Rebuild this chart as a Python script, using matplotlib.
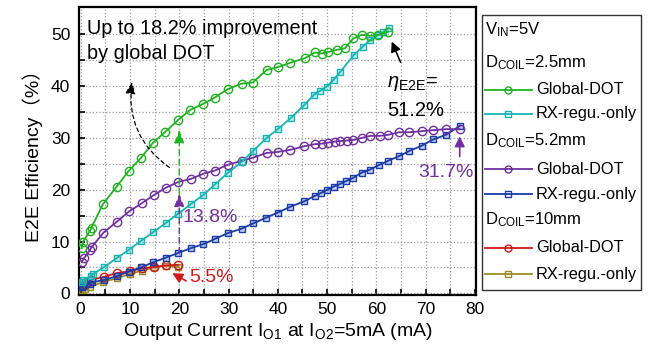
import matplotlib
matplotlib.use("Agg")
import matplotlib.pyplot as plt
from matplotlib.lines import Line2D
from matplotlib.patches import Rectangle
from matplotlib.colors import to_rgba

FONT = ["Liberation Sans", "DejaVu Sans"]
plt.rcParams["font.family"] = FONT
plt.rcParams["mathtext.fontset"] = "custom"
plt.rcParams["mathtext.rm"] = "Liberation Sans"
plt.rcParams["mathtext.it"] = "Liberation Sans:italic"
plt.rcParams["mathtext.bf"] = "Liberation Sans:bold"

# ---- measured efficiency curves (output current in mA, efficiency in %) ----
x_dot_25 = [0.2, 0.5, 1.9, 2.2, 4.5, 7.3, 9.8, 12.2, 14.7, 17.2, 19.8, 22.2, 24.9, 27.2,
            29.8, 32.7, 34.9, 37.7, 40.1, 42.5, 45.5, 47.5, 48.9, 50.2, 51.9, 53.6, 55.3,
            57.0, 58.7, 60.4, 62.4]
y_dot_25 = [8.7, 10.0, 12.1, 12.7, 17.2, 20.6, 23.7, 26.1, 29.1, 31.2, 33.5, 35.4, 36.6, 37.8,
            39.4, 40.5, 40.7, 43.1, 43.7, 44.5, 45.4, 46.5, 46.3, 46.6, 47.0, 47.3, 49.2,
            49.9, 49.7, 49.9, 50.5]

x_rx_25 = [0.2, 0.5, 2.0, 2.5, 4.8, 7.3, 9.8, 12.2, 14.7, 17.3, 19.8, 22.3, 24.9, 27.2,
           29.8, 32.7, 35.0, 37.6, 40.0, 42.7, 45.4, 47.3, 48.6, 49.9, 51.3, 52.7, 55.4,
           57.2, 58.7, 60.4, 61.3, 62.5]
y_rx_25 = [2.2, 2.6, 3.3, 3.7, 5.1, 6.8, 8.4, 10.1, 11.8, 13.6, 15.4, 17.2, 19.0, 21.0,
           23.2, 25.4, 27.5, 29.9, 31.7, 33.9, 36.4, 38.3, 39.1, 39.9, 41.2, 42.8, 46.0,
           47.6, 48.9, 49.9, 50.4, 51.2]

x_dot_52 = [0.2, 0.7, 1.9, 2.2, 4.6, 7.3, 9.8, 12.4, 14.9, 17.3, 19.8, 22.4, 24.9, 27.2,
            29.8, 32.7, 35.0, 37.7, 40.0, 42.5, 45.4, 47.5, 48.9, 50.2, 51.6, 52.7, 54.0,
            55.3, 57.0, 58.7, 60.7, 62.4, 64.6, 66.7, 69.2, 71.5, 74.1, 76.9]
y_dot_52 = [6.1, 6.8, 8.4, 8.9, 11.7, 13.8, 15.8, 17.4, 19.0, 20.4, 21.5, 22.1, 23.1, 23.7,
            24.8, 25.6, 26.2, 27.1, 27.3, 27.7, 28.4, 28.8, 28.9, 29.1, 29.3, 29.4, 29.5,
            29.6, 30.0, 30.4, 30.4, 30.6, 31.1, 31.1, 31.3, 31.5, 31.7, 31.7]

x_rx_52 = [0.2, 0.5, 1.9, 2.2, 4.8, 7.3, 9.8, 12.2, 14.7, 17.3, 19.8, 22.3, 24.9, 27.2,
           29.8, 32.7, 35.0, 37.6, 40.0, 42.5, 45.4, 47.5, 48.8, 50.0, 51.3, 52.6, 53.9,
           55.3, 57.0, 58.7, 60.6, 62.4, 64.6, 66.7, 69.2, 71.5, 74.1, 76.9]
y_rx_52 = [1.3, 1.5, 1.9, 2.1, 2.6, 3.3, 4.2, 5.0, 6.0, 6.9, 7.8, 8.7, 9.5, 10.5,
           11.6, 12.5, 13.5, 14.6, 15.6, 16.7, 17.8, 18.8, 19.4, 20.0, 20.6, 21.1, 21.7,
           22.3, 23.3, 23.9, 24.8, 25.6, 26.5, 27.5, 28.5, 29.7, 30.6, 32.3]

x_dot_10 = [0.2, 0.9, 2.1, 4.8, 7.3, 10.0, 12.4, 14.9, 17.3, 19.8]
y_dot_10 = [1.4, 1.8, 2.6, 3.2, 3.9, 4.3, 4.8, 5.1, 5.4, 5.5]

x_rx_10 = [0.2, 0.9, 1.9, 4.6, 7.3, 10.0, 12.4, 14.9, 17.3, 19.8]
y_rx_10 = [0.6, 0.9, 1.3, 2.2, 2.9, 3.7, 4.4, 5.0, 5.3, 5.1]

x_ticks = [0, 10, 20, 30, 40, 50, 60, 70, 80]
y_ticks = [0, 10, 20, 30, 40, 50]

GREEN = "#1fb41f"
CYAN = "#18b4b4"
PURPLE = "#7030a0"
BLUE = "#1a3caa"
RED = "#d01818"
OLIVE = "#9a8c22"

W, H = 651, 353
fig = plt.figure(figsize=(W / 100, H / 100), dpi=100)
ax = fig.add_axes([78.7 / W, (H - 294.9) / H, (476.5 - 78.7) / W, (294.9 - 7.4) / H])


def curve(x, y, color, marker):
    if marker == "o":
        ax.plot(x, y, color=color, lw=1.3, marker="o", ms=6.0, mfc="none",
                mec=color, mew=1.0, zorder=3)
    else:
        ax.plot(x, y, color=color, lw=1.3, marker="s", ms=4.8,
                mfc=to_rgba(color, 0.25), mec=color, mew=1.0, zorder=3)


curve(x_rx_10, y_rx_10, OLIVE, "s")
curve(x_dot_10, y_dot_10, RED, "o")
curve(x_rx_52, y_rx_52, BLUE, "s")
curve(x_dot_52, y_dot_52, PURPLE, "o")
curve(x_rx_25, y_rx_25, CYAN, "s")
curve(x_dot_25, y_dot_25, GREEN, "o")

ax.set_xlim(-0.4, 80.3)
ax.set_ylim(-0.3, 55.2)
ax.set_xticks(x_ticks)
ax.set_yticks(y_ticks)
ax.set_xticks(range(5, 80, 10), minor=True)
ax.set_yticks(range(5, 55, 10), minor=True)
ax.grid(which="both", ls=":", color="#9c9c9c", lw=0.9, zorder=0)
ax.set_axisbelow(True)
ax.tick_params(which="both", direction="in", length=4, width=1.2, labelsize=12.5)
ax.tick_params(axis="x", pad=5)
ax.tick_params(axis="y", pad=6)
for s in ax.spines.values():
    s.set_linewidth(1.6)

ax.set_xlabel(r"Output Current I$_{\mathrm{O1}}$ at I$_{\mathrm{O2}}$=5mA (mA)",
              fontsize=14, labelpad=3)
ax.set_ylabel("E2E Efficiency（%）", fontsize=14, labelpad=6,
              family=["Liberation Sans", "Noto Sans CJK SC"])

# annotations
ax.text(1.3, 52.9, "Up to 18.2% improvement\nby global DOT", fontsize=14.3,
        va="top", ha="left", linespacing=1.35, zorder=4)

ax.annotate("", xy=(10.4, 40.8), xytext=(18.0, 24.3),
            arrowprops=dict(arrowstyle="-|>,head_length=0.7,head_width=0.3",
                            ls=(0, (3, 2.5)), color="black", lw=0.9,
                            connectionstyle="arc3,rad=-0.3", shrinkA=0, shrinkB=0))

ax.annotate("", xy=(20.0, 31.6), xytext=(20.0, 15.4),
            arrowprops=dict(arrowstyle="-|>,head_length=0.8,head_width=0.3",
                            ls=(0, (4, 3)), color=GREEN, lw=1.0, shrinkA=0, shrinkB=0))
ax.annotate("", xy=(20.0, 19.3), xytext=(20.0, 7.8),
            arrowprops=dict(arrowstyle="-|>,head_length=0.8,head_width=0.3",
                            ls=(0, (4, 3)), color=PURPLE, lw=1.0, shrinkA=0, shrinkB=0))
ax.text(20.7, 14.6, "13.8%", fontsize=14, color=PURPLE, va="center", ha="left", zorder=4)

ax.annotate("", xy=(18.6, 3.9), xytext=(21.4, 2.4),
            arrowprops=dict(arrowstyle="-|>,head_length=0.6,head_width=0.3",
                            color=RED, lw=1.2, shrinkA=0, shrinkB=0))
ax.text(22.0, 3.0, "5.5%", fontsize=14, color=RED, va="center", ha="left", zorder=4)

ax.annotate("", xy=(63.1, 48.6), xytext=(64.9, 44.6),
            arrowprops=dict(arrowstyle="-|>,head_length=0.6,head_width=0.3",
                            color="black", lw=1.1, shrinkA=0, shrinkB=0))
ax.text(62.2, 40.5, r"$\eta_{\mathrm{E2E}}$=", fontsize=14.5, va="center", ha="left", zorder=4)
ax.text(62.2, 35.3, "51.2%", fontsize=14.5, va="center", ha="left", zorder=4)

ax.annotate("", xy=(76.9, 30.3), xytext=(76.9, 26.4),
            arrowprops=dict(arrowstyle="-|>,head_length=0.6,head_width=0.3",
                            color=PURPLE, lw=1.2, shrinkA=0, shrinkB=0))
ax.text(74.0, 23.4, "31.7%", fontsize=14, color=PURPLE, va="center", ha="center", zorder=4)


# ---- grouped legend panel on the right ----
def fx(px):
    return px / W


def fy(py):
    return 1 - py / H


fig.add_artist(Rectangle((fx(482), fy(290)), fx(641) - fx(482), fy(15) - fy(290),
                         transform=fig.transFigure, fill=False, ec="#333333", lw=1.0))

headers = [(30, r"V$_{\mathrm{IN}}$=5V"),
           (63, r"D$_{\mathrm{COIL}}$=2.5mm"),
           (141, r"D$_{\mathrm{COIL}}$=5.2mm"),
           (220, r"D$_{\mathrm{COIL}}$=10mm")]
for py, s in headers:
    fig.text(fx(485), fy(py), s, fontsize=12, va="center", ha="left")

entries = [(90, GREEN, "o", "Global-DOT"),
           (114, CYAN, "s", "RX-regu.-only"),
           (169, PURPLE, "o", "Global-DOT"),
           (194, BLUE, "s", "RX-regu.-only"),
           (248, RED, "o", "Global-DOT"),
           (274, OLIVE, "s", "RX-regu.-only")]
for py, c, m, s in entries:
    fig.add_artist(Line2D([fx(484.5), fx(531.5)], [fy(py), fy(py)], transform=fig.transFigure,
                          color=c, lw=1.3))
    fig.add_artist(Line2D([fx(508)], [fy(py)], transform=fig.transFigure, color=c,
                          marker=m, ms=5 if m == "o" else 4.2, mfc="none", mec=c, mew=1.0))
    fig.text(fx(536), fy(py), s, fontsize=11.8, va="center", ha="left")

fig.savefig("out.png", dpi=100)
